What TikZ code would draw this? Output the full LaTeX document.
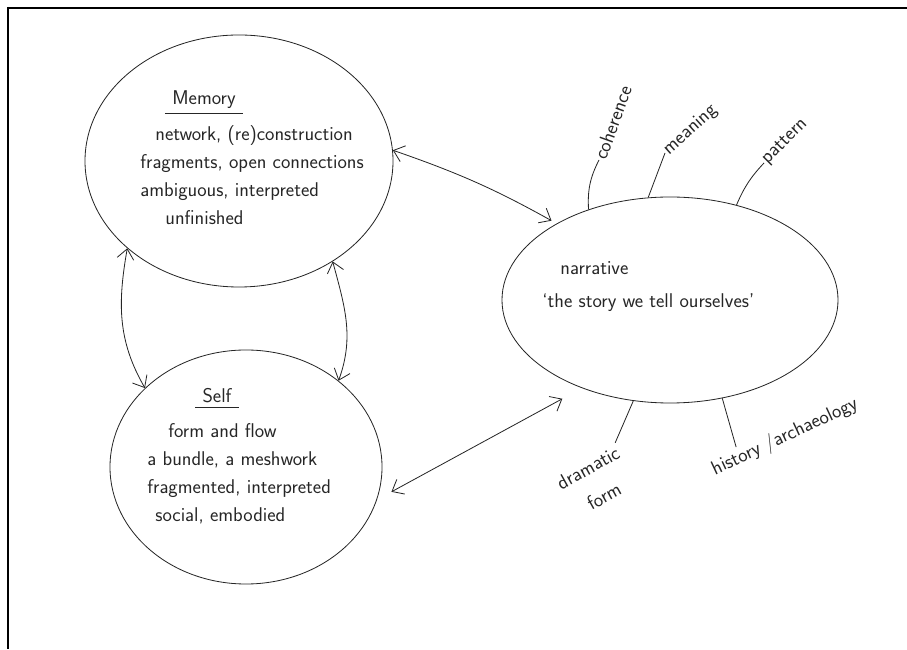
\documentclass[tikz,border=0pt]{standalone}
\usepackage{tikz}
\usetikzlibrary{arrows.meta,shapes.geometric,calc}

\begin{document}
\begin{tikzpicture}[<->,>={Straight Barb[length=3mm,width=5mm]},x=0.03cm,y=0.03cm,
                    line width=0.7pt,color=black!85,
                    font=\sffamily\fontsize{17}{24}\selectfont]
  \tikzstyle{bubble}=[ellipse,draw,inner sep=0pt]
  \tikzstyle{words}=[inner sep=0pt,align=left,anchor=north west]
  \tikzstyle{spoke}=[inner sep=1pt]

  \useasboundingbox (0,0) rectangle (907,649);
  % frame
  \draw[-,line width=2.5pt,black] (7,641) -- (907,641);
  \draw[-,line width=2.5pt,black] (8,642) -- (8,0);

  \node[bubble,minimum width=9.24cm,minimum height=7.56cm] (memory) at (239,488) {};
  \node[bubble,minimum width=8.16cm,minimum height=7.02cm] (self) at (246,182) {};
  \node[bubble,minimum width=10.08cm,minimum height=6.18cm] (narrative) at (670,349) {};

  \node[inner sep=3pt,anchor=base] (memtitle) at (204,544) {Memory};
  \node[inner sep=3pt,anchor=base] (selftitle) at (217,246) {Self};
  \draw[-,shorten <=-3pt,shorten >=-3pt] (memtitle.south west) -- (memtitle.south east);
  \draw[-,shorten <=-3pt,shorten >=-3pt] (selftitle.south west) -- (selftitle.south east);

  \node[words] (memtext) at (140,524)
    {\hspace*{0.45cm}network, (re)construction\\fragments, open connections\\
     ambiguous, interpreted\\\hspace*{0.75cm}unfinished};
  \node[words] (selftext) at (147,226)
    {\hspace*{0.63cm}form and flow\\a bundle, a meshwork\\
     fragmented, interpreted\\\hspace*{0.24cm}social, embodied};
  \node[words,font=\sffamily\fontsize{17}{28}\selectfont] (narrtext) at (542,388)
    {\hspace*{0.54cm}narrative\\`the story we tell ourselves'};

  \node[spoke,rotate=70,anchor=west] (coherence) at (599,489) {coherence};
  \node[spoke,rotate=42,anchor=west] (meaning)   at (665,496) {meaning};
  \node[spoke,rotate=45,anchor=west] (pattern)   at (764,486) {pattern};
  \node[spoke,rotate=29,align=center,font=\sffamily\fontsize{17}{28}\selectfont]
    (dramatic) at (596,167) {dramatic\\form};
  \node[spoke,rotate=25] (history) at (785,212) {history /archaeology};

  \path (memory.4)    edge[bend left=5,shorten >=5pt]       (narrative.146)
        (self.-14)    edge[shorten <=14pt,shorten >=19pt]   (narrative.225)
        (memory.218)  edge[out=260,in=120]                  (self.142)
        (memory.-47)  edge[out=-75,in=70]                   (self.43);

  \path[-] (narrative.132) edge[bend left=15] (coherence.west)
           (narrative.102) edge               (meaning.west)
           (narrative.55)  edge[bend left=10] (pattern.west)
           (narrative.250) edge               (dramatic.north east)
           (narrative.298) edge ($(history.north west)!0.2!(history.north east)$);
\end{tikzpicture}
\end{document}
